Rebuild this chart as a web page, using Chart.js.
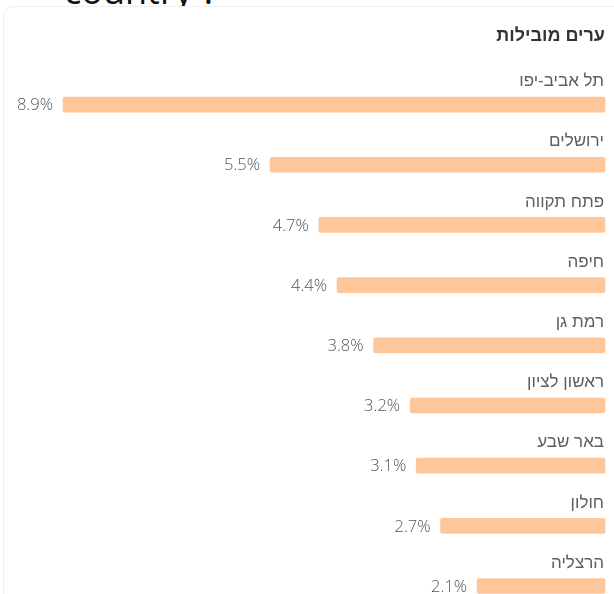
<!DOCTYPE html>
<html>
<head>
<meta charset="utf-8">
<script src="https://cdn.jsdelivr.net/npm/chart.js@4"></script>
<style>
  html, body { margin: 0; padding: 0; background: #fff; }
  body { width: 614px; height: 594px; position: relative; overflow: hidden; }
  #question {
    position: absolute; left: 64px; top: -34px;
    font-family: "Open Sans", sans-serif; font-size: 36px; color: #111;
  }
  #card {
    position: absolute; left: 3px; top: 6px; width: 640px; height: 620px;
    background: #fff; border-top: 1px solid #eceef0; border-left: 1px solid #eceef0;
    border-top-left-radius: 10px;
  }
  #wrap { position: absolute; left: 0; top: 0; width: 614px; height: 594px; }
</style>
</head>
<body>
<div id="question">country ?</div>
<div id="card"></div>
<div id="wrap"><canvas id="cities"></canvas></div>
<script>
// leading cities, share of total
const cities = ["תל אביב-יפו", "ירושלים", "פתח תקווה", "חיפה", "רמת גן", "ראשון לציון", "באר שבע", "חולון", "הרצליה"];
const shares = [8.9, 5.5, 4.7, 4.4, 3.8, 3.2, 3.1, 2.7, 2.1];
const chartTitle = "ערים מובילות";

const FONT = '"Open Sans", "Liberation Sans", sans-serif';
const HEB_FONT = '"Liberation Sans", "Open Sans", sans-serif';

// draws city name above each bar and the percentage to its left
const barLabels = {
  id: "barLabels",
  afterDatasetsDraw(chart) {
    const ctx = chart.ctx;
    const meta = chart.getDatasetMeta(0);
    ctx.save();
    ctx.textBaseline = "middle";
    meta.data.forEach((bar, i) => {
      ctx.textAlign = "right";
      ctx.direction = "rtl";
      ctx.fillStyle = "#5e5e5e";
      ctx.font = "17px " + HEB_FONT;
      ctx.fillText(cities[i], chart.chartArea.right - 1, bar.y - 23);
      ctx.direction = "ltr";
      ctx.fillStyle = "#555";
      ctx.font = "300 16.5px " + FONT;
      const left = Math.min(bar.x, bar.base);
      ctx.fillText(shares[i].toFixed(1) + "%", left - 10, bar.y + 1);
    });
    ctx.restore();
  }
};

new Chart(document.getElementById("cities"), {
  type: "bar",
  data: {
    labels: cities,
    datasets: [{
      data: shares,
      backgroundColor: "#ffc799",
      borderRadius: 2,
      borderSkipped: false,
      barThickness: 15,
      clip: false
    }]
  },
  options: {
    indexAxis: "y",
    responsive: true,
    maintainAspectRatio: false,
    animation: false,
    layout: { padding: { left: 63, right: 9, top: 0, bottom: 8 } },
    scales: {
      x: { display: false, reverse: true, min: 0, max: Math.max(...shares) },
      y: { display: false, offset: false }
    },
    plugins: {
      legend: { display: false },
      tooltip: { enabled: false },
      title: {
        display: true,
        text: chartTitle,
        align: "end",
        color: "#333",
        font: { family: HEB_FONT, size: 18, weight: "bold" },
        padding: { top: 25, bottom: 58 }
      }
    }
  },
  plugins: [barLabels]
});
</script>
</body>
</html>
